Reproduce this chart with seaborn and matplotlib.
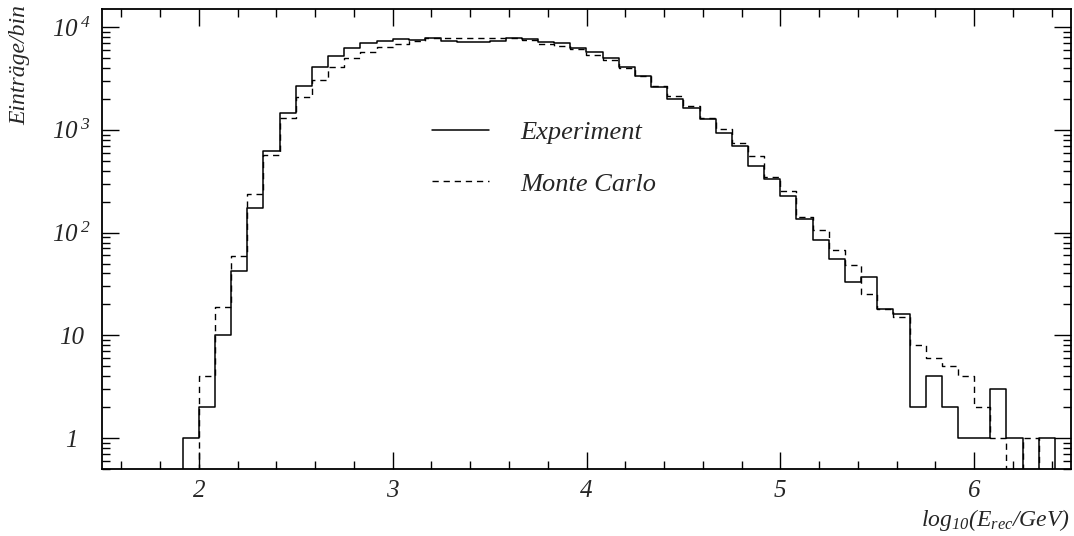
import numpy as np
import pandas as pd
import matplotlib
matplotlib.use("Agg")
import matplotlib.pyplot as plt
import seaborn as sns
from matplotlib.ticker import FixedLocator, FixedFormatter, MultipleLocator
from matplotlib.lines import Line2D

# ---- data ----
bin_lo = 1.5
bin_hi = 6.5
n_bins = 60

experiment = [0, 0, 0, 0, 0, 1, 2, 10, 42, 174,
              625, 1460, 2690, 4100, 5250, 6250, 7000, 7350, 7650, 7550,
              7750, 7400, 7180, 7180, 7300, 7780, 7670, 7180, 7050, 6300,
              5700, 4980, 4100, 3350, 2640, 1990, 1630, 1270, 930, 700,
              445, 330, 226, 136, 85, 55, 33, 37, 18, 16,
              2, 4, 2, 1, 1, 3, 1, 0, 1, 0]

monte_carlo = [0, 0, 0, 0, 0, 0, 4, 19, 59, 238,
               564, 1290, 2090, 3060, 4100, 5000, 5750, 6400, 6900, 7280,
               7780, 7850, 7860, 7860, 7800, 7780, 7430, 6910, 6600, 6160,
               5380, 4750, 4000, 3370, 2660, 2150, 1720, 1315, 1010, 745,
               555, 351, 256, 143, 107, 68, 48, 25, 18, 15,
               8, 6, 5, 4, 2, 1, 0, 1, 0, 0]

series_labels = ["Experiment", "Monte Carlo"]
x_ticks = [2, 3, 4, 5, 6]
x_tick_labels = ["2", "3", "4", "5", "6"]
y_ticks = [1, 10, 100, 1000, 10000]
y_tick_labels = ["1", "10", r"$10^{\;2}$", r"$10^{\;3}$", r"$10^{\;4}$"]
x_label = r"$log_{10}(E_{rec}/GeV)$"
y_label = "Einträge/bin"

edges = np.linspace(bin_lo, bin_hi, n_bins + 1)
centers = 0.5 * (edges[:-1] + edges[1:])
df = pd.DataFrame({"x": centers, "exp": experiment, "mc": monte_carlo})
bw = (bin_hi - bin_lo) / n_bins

# ---- style ----
sns.set_theme(style="white")
plt.rcParams["font.family"] = ["Liberation Serif", "DejaVu Serif"]
plt.rcParams["font.style"] = "italic"
plt.rcParams["mathtext.fontset"] = "custom"
plt.rcParams["mathtext.rm"] = "Liberation Serif:italic"
plt.rcParams["mathtext.it"] = "Liberation Serif:italic"
plt.rcParams["mathtext.default"] = "it"

fig = plt.figure(figsize=(10.74, 5.36), dpi=100)
ax = fig.add_axes([102 / 1074, 1 - 469 / 536, (1071 - 102) / 1074, (469 - 9) / 536])

sns.histplot(data=df, x="x", weights="exp", binwidth=bw, binrange=(bin_lo, bin_hi),
             element="step", fill=False, color="black", linewidth=1.1, ax=ax)
sns.histplot(data=df, x="x", weights="mc", binwidth=bw, binrange=(bin_lo, bin_hi),
             element="step", fill=False, color="black", linewidth=1.0,
             linestyle=(0, (4.5, 3.5)), ax=ax)

ax.set_yscale("log", nonpositive="clip")
ax.set_xlim(bin_lo, bin_hi)
ax.set_ylim(0.5, 1.5e4)

ax.xaxis.set_major_locator(FixedLocator(x_ticks))
ax.xaxis.set_major_formatter(FixedFormatter(x_tick_labels))
ax.xaxis.set_minor_locator(MultipleLocator(0.2))
ax.yaxis.set_major_locator(FixedLocator(y_ticks))
ax.yaxis.set_major_formatter(FixedFormatter(y_tick_labels))
minor_y = [m * 10 ** e for e in range(-1, 5) for m in range(2, 10)]
minor_y = [v for v in minor_y if 0.5 <= v <= 1.5e4]
ax.yaxis.set_minor_locator(FixedLocator(minor_y))
ax.yaxis.set_minor_formatter(FixedFormatter([""] * len(minor_y)))

ax.tick_params(which="both", direction="in", top=True, right=True, bottom=True, left=True,
               color="black", width=1.0)
ax.tick_params(which="major", length=12)
ax.tick_params(which="minor", length=6)
ax.tick_params(axis="x", which="major", labelsize=18, pad=8)
ax.tick_params(axis="y", which="major", labelsize=18, pad=22)
for lab in ax.get_yticklabels():
    lab.set_horizontalalignment("center")

for s in ax.spines.values():
    s.set_visible(True)
    s.set_color("black")
    s.set_linewidth(1.3)

ax.set_xlabel("")
ax.set_ylabel("")
fig.text(1070 / 1074, 1 - 520 / 536, x_label, ha="right", va="center", fontsize=17)
fig.text(20 / 1074, 1 - 5 / 536, y_label, ha="center", va="top", rotation=90, fontsize=17)

handles = [Line2D([], [], color="black", linewidth=1.1),
           Line2D([], [], color="black", linewidth=1.0, linestyle=(0, (4.5, 3.5)))]
leg = ax.legend(handles, series_labels, loc="upper left",
                bbox_to_anchor=(432 / 1074, 1 - 121 / 536), bbox_transform=fig.transFigure,
                frameon=False, fontsize=19, handlelength=2.15, handletextpad=1.2,
                labelspacing=1.05, borderpad=0, borderaxespad=0)

fig.savefig("out.png", dpi=100, facecolor="white")
